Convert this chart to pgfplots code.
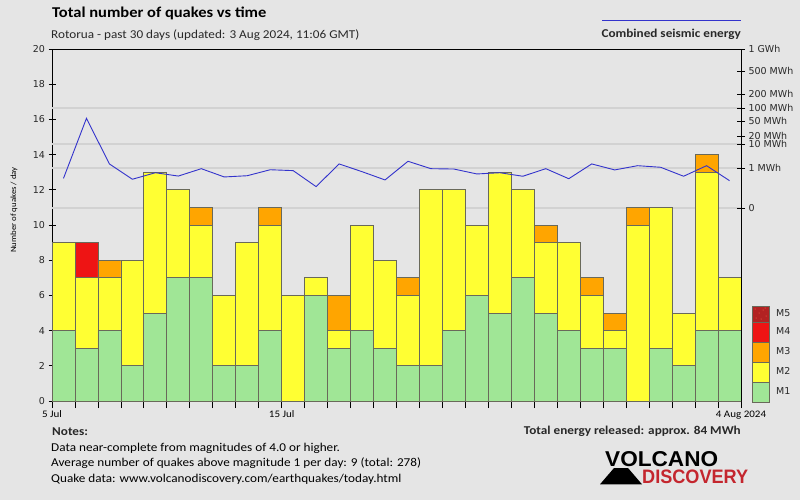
\documentclass[border=0pt]{standalone}
\usepackage{pgfplots}
\usepackage{pgfplotstable}
\pgfplotsset{compat=1.18}
\usepackage{fontspec}
\setmainfont{Carlito}[FakeStretch=1.1]
\newfontfamily\tickfont{DejaVu Sans}
\newfontfamily\logofont{Liberation Sans}
\definecolor{bg}{RGB}{229,229,229}
\definecolor{gridc}{RGB}{210,210,210}
\definecolor{mone}{RGB}{160,230,150}
\definecolor{mtwo}{RGB}{255,255,51}
\definecolor{mthree}{RGB}{255,165,0}
\definecolor{mfour}{RGB}{238,20,20}
\definecolor{mfive}{RGB}{178,34,34}
\definecolor{edge}{RGB}{105,105,90}
\definecolor{eline}{RGB}{51,51,204}
\definecolor{txt}{RGB}{40,40,40}
\definecolor{logored}{RGB}{196,38,46}

\pgfplotstableread{
x    m1 m2 m3 m4 en
0.5  4  5  0  0  12.65
1.5  3  4  0  2  16.06
2.5  4  3  1  0  13.47
3.5  2  6  0  0  12.60
4.5  5  8  0  0  12.97
5.5  7  5  0  0  12.78
6.5  7  3  1  0  13.20
7.5  2  4  0  0  12.73
8.5  2  7  0  0  12.80
9.5  4  6  1  0  13.14
10.5 0  6  0  0  13.09
11.5 6  1  0  0  12.18
12.5 3  1  2  0  13.47
13.5 4  6  0  0  13.03
14.5 3  5  0  0  12.56
15.5 2  4  1  0  13.62
16.5 2  10 0  0  13.20
17.5 4  8  0  0  13.18
18.5 6  4  0  0  12.90
19.5 5  8  0  0  12.97
20.5 7  5  0  0  12.77
21.5 5  4  1  0  13.20
22.5 4  5  0  0  12.63
23.5 3  3  1  0  13.47
24.5 3  1  1  0  13.13
25.5 0  10 1  0  13.37
26.5 3  8  0  0  13.28
27.5 2  3  0  0  12.77
28.5 4  9  1  0  13.37
29.5 4  3  0  0  12.52
}\data

\begin{document}
\begin{tikzpicture}[x=1bp,y=-1bp]
\fill[bg] (0,0) rectangle (800,500);
\path[use as bounding box] (0,0) rectangle (800,500);

% main axis with stacked bars
\begin{axis}[
  at={(52bp,-401bp)}, anchor=south west,
  scale only axis, width=689bp, height=352bp,
  xmin=0, xmax=30, ymin=0, ymax=20,
  ybar stacked, bar width=1,
  axis line style={black, line width=0.8bp},
  xtick={0,...,30},
  xticklabels={5 Jul,,,,,,,,,,15 Jul,,,,,,,,,,,,,,,,,,,,4 Aug 2024},
  xtick pos=bottom, ytick pos=left,
  xtick align=outside, ytick align=center,
  major tick length=7bp,
  tick style={black, line width=0.8bp},
  ytick={0,2,...,20},
  extra y ticks={10.97,13.24,14.6,16.65},
  extra y tick labels={},
  extra y tick style={grid=major, tick style={draw=none}, major grid style={gridc, line width=1.6bp}},
  /pgf/number format/assume math mode=true,
  yticklabel style={font=\tickfont\fontsize{9.5bp}{11bp}\selectfont, text=txt},
  xticklabel style={font=\fontsize{10bp}{12bp}\selectfont, text=black, yshift=1bp},
]
\addplot[fill=mone, draw=edge, line width=0.8bp] table[x=x,y=m1]{\data};
\addplot[fill=mtwo, draw=edge, line width=0.8bp] table[x=x,y=m2]{\data};
\addplot[fill=mthree, draw=edge, line width=0.8bp] table[x=x,y=m3]{\data};
\addplot[fill=mfour, draw=edge, line width=0.8bp] table[x=x,y=m4]{\data};
\end{axis}

% right energy axis and energy line
\begin{axis}[
  at={(52bp,-401bp)}, anchor=south west,
  scale only axis, width=689bp, height=352bp,
  xmin=0, xmax=30, ymin=0, ymax=20,
  axis x line=none, axis y line*=right,
  axis line style={black, line width=0.8bp},
  ytick={10.97,13.24,14.6,15.06,15.9,16.65,17.44,18.75,20},
  yticklabels={0,1 MWh,10 MWh,20 MWh,50 MWh,100 MWh,200 MWh,500 MWh,1 GWh},
  ytick align=center, major tick length=8bp,
  tick style={black, line width=0.8bp},
  yticklabel style={font=\tickfont\fontsize{9.5bp}{11bp}\selectfont, text=txt, anchor=west},
]
\addplot[eline, line width=0.9bp, mark=none] table[x=x,y=en]{\data};
\end{axis}

% titles
\node[anchor=base west, inner sep=0, font=\bfseries\fontsize{15bp}{17bp}\selectfont, text=black] at (52,17.3) {Total number of quakes vs time};
\node[anchor=base west, inner sep=0, font=\fontsize{12bp}{14bp}\selectfont, text=txt] at (51,38.3) {Rotorua - past 30 days (updated: 3 Aug 2024, 11:06 GMT)};
\draw[eline, line width=0.9bp] (602,20) -- (741,20);
\node[anchor=base east, inner sep=0, font=\bfseries\fontsize{12bp}{14bp}\selectfont, text=txt] at (741,37.3) {Combined seismic energy};

% y label
\node[rotate=90, inner sep=0, font=\fontsize{8bp}{10bp}\selectfont, text=black] at (14,210) {Number of quakes / day};

% legend
\fill[mfive] (752,306) rectangle (769,322);
\foreach \px/\py in {755/309,759/313,763/310,766/316,756/318,761/319,765/308}{\fill[red!60!orange!70] (\px,\py) circle (0.5);}
\draw[edge, line width=0.8bp] (752,306) rectangle (769,322);
\draw[edge, line width=0.8bp, fill=mfour] (752,322) rectangle (769,342);
\draw[edge, line width=0.8bp, fill=mthree] (752,342) rectangle (769,362);
\draw[edge, line width=0.8bp, fill=mtwo] (752,362) rectangle (769,382);
\draw[edge, line width=0.8bp, fill=mone] (752,382) rectangle (769,402);
\foreach \lab/\ly in {M5/313,M4/331,M3/351,M2/371,M1/391}{
  \node[anchor=west, inner sep=0, font=\tickfont\fontsize{9.5bp}{11bp}\selectfont, text=txt] at (776,\ly) {\lab};
}

% notes
\node[anchor=base west, inner sep=0, font=\bfseries\fontsize{12bp}{14bp}\selectfont, text=txt] at (52,435.7) {Notes:};
\node[anchor=base west, inner sep=0, font=\fontsize{12bp}{14bp}\selectfont, text=black] at (51,451) {Data near-complete from magnitudes of 4.0 or higher.};
\node[anchor=base west, inner sep=0, font=\fontsize{12bp}{14bp}\selectfont, text=black] at (51,466.5) {Average number of quakes above magnitude 1 per day: 9 (total: 278)};
\node[anchor=base west, inner sep=0, font=\fontsize{12bp}{14bp}\selectfont, text=black] at (51,482.3) {Quake data: www.volcanodiscovery.com/earthquakes/today.html};
\node[anchor=base east, inner sep=0, font=\bfseries\fontsize{12bp}{14bp}\selectfont, text=txt] at (741,434.7) {Total energy released: approx. 84 MWh};

% logo
\fill[black] (600,484.3) -- (614,468) -- (628,468) -- (642,484.3) -- cycle;
\node[anchor=south west, inner sep=0] at (605,466.7) {\resizebox{113bp}{15bp}{\logofont\bfseries VOLCANO}};
\node[anchor=south west, inner sep=0, text=logored] at (642,484.3) {\resizebox{106bp}{13.6bp}{\logofont\bfseries DISCOVERY}};
\end{tikzpicture}
\end{document}
